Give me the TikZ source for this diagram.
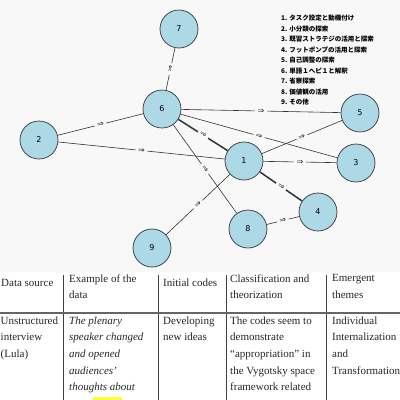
\documentclass[tikz,border=0pt]{standalone}
\usepackage{fontspec}
\setmainfont{Liberation Serif}
\newfontfamily\jpfont{Noto Sans CJK JP}
\newfontfamily\symfont{DejaVu Sans}
\definecolor{bggray}{RGB}{248,248,248}
\definecolor{nodeblue}{RGB}{173,216,230}
\definecolor{hlyellow}{RGB}{255,255,60}

\begin{document}
\begin{tikzpicture}[
    x=1pt, y=-1pt,
    node/.style={circle, draw=black!80, fill=nodeblue, line width=0.7pt, minimum size=38pt, inner sep=0pt, font=\symfont\fontsize{8}{8}\selectfont},
    edge1/.style={draw=black!80, line width=0.6pt},
    edge2/.style={draw=black!80, line width=1.5pt},
    arrowmark/.style={sloped, fill=bggray, inner xsep=2.5pt, inner ysep=0.5pt, font=\symfont\fontsize{8}{8}\selectfont, text=black!85},
    legend/.style={anchor=north west, align=left, inner sep=0pt, execute at begin node=\strut, font=\jpfont\bfseries\fontsize{6.5}{10.5}\selectfont},
    cell/.style={anchor=north west, align=left, inner sep=0pt, execute at begin node=\strut, font=\fontsize{11}{16.7}\selectfont, text=black!85},
    cellit/.style={cell, font=\fontsize{11}{16.7}\selectfont\itshape},
    rule/.style={draw=black!75, line width=0.6pt}
]
\useasboundingbox (0,0) rectangle (400,400);
\fill[bggray] (0,0) rectangle (400,272);

% Вершины
\node[node] (n7) at (179,29) {7};
\node[node] (n6) at (162,109) {6};
\node[node] (n2) at (39,140) {2};
\node[node] (n5) at (360,113) {5};
\node[node] (n1) at (244,161) {1};
\node[node] (n3) at (356,163) {3};
\node[node] (n4) at (318,212) {4};
\node[node] (n8) at (248,229) {8};
\node[node] (n9) at (152,248) {9};

% Рёбра от 2
\draw[edge1] (n2) -- node[arrowmark] {⇒} (n6);
\draw[edge1] (n2) -- node[arrowmark] {⇒} (n1);

% Рёбра от 6
\draw[edge1] (n6) -- node[arrowmark] {⇒} (n7);
\draw[edge1] (n6) -- node[arrowmark] {⇒} (n5);
\draw[edge1] (n6) -- node[arrowmark] {⇒} (n3);
\draw[edge2] (n6) -- node[arrowmark] {⇒} (n1);
\draw[edge1] (n6) -- node[arrowmark] {⇒} (n8);

% Рёбра от 1
\draw[edge1] (n1) -- node[arrowmark] {⇒} (n5);
\draw[edge1] (n1) -- node[arrowmark] {⇒} (n3);
\draw[edge2] (n1) -- node[arrowmark] {⇒} (n4);

% Рёбра от 8 и 9
\draw[edge1] (n8) -- node[arrowmark] {⇒} (n4);
\draw[edge1] (n9) -- node[arrowmark] {⇒} (n1);

% Легенда
\node[legend] (leg) at (281,15.2) {1. タスク設定と動機付け\\2. 小分類の探索\\3. 既習ストラテジの活用と探索\\4. フットポンプの活用と探索\\5. 自己調整の探索\\6. 単語１へピ１と解釈\\7. 省察探索\\8. 価値観の活用\\9. その他};

% Таблица
\fill[hlyellow] (93,397) rectangle (122,400);
\draw[rule] (63,275) -- (63,400);
\draw[rule] (158,275) -- (158,400);
\draw[rule] (226,275) -- (226,400);
\draw[rule] (326,275) -- (326,400);
\draw[rule, draw=black!60, line width=1.5pt] (0,313) -- (400,313);

\node[cell] (h1) at (1,274.3) {Data source};
\node[cell] (h2) at (69,274.3) {Example of the\\data};
\node[cell] (h3) at (163,274.3) {Initial codes};
\node[cell] (h4) at (230,274.3) {Classification and\\theorization};
\node[cell] (h5) at (332,274.3) {Emergent\\themes};

\node[cell] (c1) at (0.5,316.3) {Unstructured\\interview\\(Lula)};
\node[cellit] (c2) at (69,316.3) {The plenary\\speaker changed\\and opened\\audiences’\\thoughts about};
\node[cell] (c3) at (163,316.3) {Developing\\new ideas};
\node[cell] (c4) at (230,316.3) {The codes seem to\\demonstrate\\“appropriation” in\\the Vygotsky space\\framework related};
\node[cell] (c5) at (332,316.3) {Individual\\Internalization\\and\\Transformation};
\end{tikzpicture}
\end{document}
